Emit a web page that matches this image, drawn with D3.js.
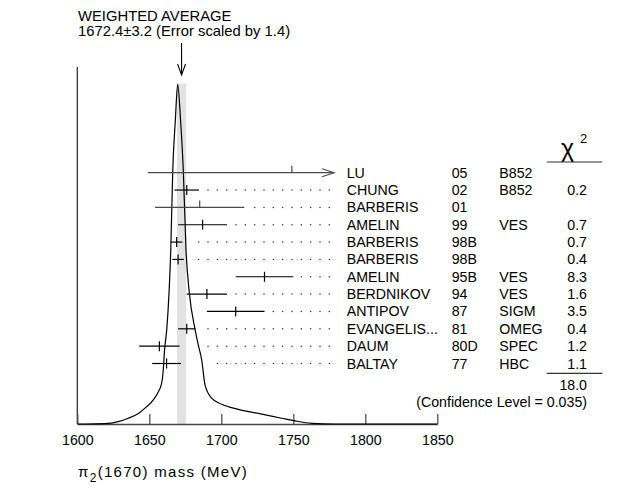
<!DOCTYPE html>
<html>
<head>
<meta charset="utf-8">
<script src="https://cdn.jsdelivr.net/npm/d3@7"></script>
<style>
  body { margin: 0; background: #fff; }
  text { font-family: "Liberation Sans", Arial, sans-serif; fill: #000; }
</style>
</head>
<body>
<div id="chart-area"></div>
<script>
// measurements, top to bottom
const authors = ['LU', 'CHUNG', 'BARBERIS', 'AMELIN', 'BARBERIS', 'BARBERIS', 'AMELIN',
                 'BERDNIKOV', 'ANTIPOV', 'EVANGELIS...', 'DAUM', 'BALTAY']
const years = ['05', '02', '01', '99', '98B', '98B', '95B', '94', '87', '81', '80D', '77']
const experiments = ['B852', 'B852', '', 'VES', '', '', 'VES', 'VES', 'SIGM', 'OMEG', 'SPEC', 'HBC']
const chi2 = ['', '0.2', '', '0.7', '0.7', '0.4', '8.3', '1.6', '3.5', '0.4', '1.2', '1.1']
const masses = [1749, 1676, 1685, 1687, 1669, 1670, 1730, 1690, 1710, 1676, 1657, 1662]
const errors = [100, 8.5, 31, 17, 4, 4, 20, 14, 20, 6, 14, 10]
const used = [false, true, false, true, true, true, true, true, true, true, true, true]

const avgMass = 1672.4
const avgErr = 3.2
const chi2Total = '18.0'
const confLevel = '(Confidence Level = 0.035)'
const xTicks = [1600, 1650, 1700, 1750, 1800, 1850]

// ideogram (height as fraction of the peak)
const curveMass = [1600, 1605.3, 1619.2, 1628.5, 1635.4, 1642.4, 1648.2, 1652.8, 1656.3, 1658.6,
                   1659.7, 1660.6, 1662.1, 1663.7, 1664.9, 1666.3, 1668.1, 1669.7,
                   1671.7, 1673.6, 1675.5, 1677.8, 1681.7, 1684, 1686.4, 1688.7, 1693.3,
                   1700.3, 1711.8, 1728.1, 1741.9, 1751.2, 1762.8, 1779, 1850]
const curveHeight = [0, 0, 0.001, 0.007, 0.017, 0.031, 0.051, 0.071, 0.095, 0.12,
                     0.159, 0.218, 0.277, 0.386, 0.512, 0.748, 0.895, 1.0,
                     0.895, 0.748, 0.512, 0.386, 0.28, 0.233, 0.188, 0.115, 0.076,
                     0.058, 0.043, 0.029, 0.017, 0.009, 0.002, 0, 0]

const width = 637
const height = 496
const baseY = 424

const svg = d3.select('#chart-area')
              .append('svg')
              .attr('width', width)
              .attr('height', height)

const x = d3.scaleLinear()
            .domain([1600, 1850])
            .range([77.3, 437.3])

const yCurve = d3.scaleLinear()
                 .domain([0, 1])
                 .range([baseY, 84.3])

const yRow = d3.scalePoint()
               .domain(d3.range(authors.length))
               .range([172.7, 363.5])

// gray band for the average
svg.append('rect')
   .attr('x', x(avgMass - avgErr))
   .attr('y', yCurve(1) - 1)
   .attr('width', x(avgMass + avgErr) - x(avgMass - avgErr))
   .attr('height', baseY - yCurve(1) + 1)
   .attr('fill', '#e2e2e2')

// left vertical line
svg.append('line')
   .attr('x1', x(1600)).attr('x2', x(1600))
   .attr('y1', 67).attr('y2', baseY)
   .attr('stroke', '#222')
   .attr('stroke-width', 1.2)

// x axis, ticks pointing up
const xAxisCall = d3.axisBottom(x)
                    .tickValues(xTicks)
                    .tickSizeInner(-10)
                    .tickSizeOuter(0)
                    .tickPadding(11)
                    .tickFormat(d3.format('d'))

const xAxis = svg.append('g')
   .attr('transform', 'translate(0,' + baseY + ')')
   .call(xAxisCall)
xAxis.select('.domain').attr('stroke', '#444').attr('stroke-width', 1.6)
xAxis.selectAll('.tick line').attr('stroke', '#444').attr('stroke-width', 1.2)
xAxis.selectAll('text')
     .attr('font-family', '"Liberation Sans", Arial, sans-serif')
     .attr('font-size', '14.2px')
     .attr('fill', '#000')

// ideogram
const line = d3.line()
               .x((d, i) => x(curveMass[i]))
               .y(d => yCurve(d))
               .curve(d3.curveMonotoneX)

svg.append('path')
   .datum(curveHeight)
   .attr('d', line)
   .attr('fill', 'none')
   .attr('stroke', '#000')
   .attr('stroke-width', 1.2)

// right edge of the curve at a given pixel height
const peak = curveHeight.indexOf(1)
function curveRightX(py) {
    const h = yCurve.invert(py)
    for (let i = peak; i < curveHeight.length - 1; i++) {
        if (curveHeight[i + 1] <= h) {
            const t = (curveHeight[i] - h) / (curveHeight[i] - curveHeight[i + 1])
            return x(curveMass[i] + t * (curveMass[i + 1] - curveMass[i]))
        }
    }
    return x(1600)
}

// weighted average label and arrow
svg.append('text')
   .attr('x', 78).attr('y', 21)
   .attr('font-size', '14.8px')
   .text('WEIGHTED AVERAGE')
svg.append('text')
   .attr('x', 78).attr('y', 36)
   .attr('font-size', '14.8px')
   .text(avgMass + '\u00b1' + avgErr + ' (Error scaled by 1.4)')

const ax = x(avgMass)
svg.append('line')
   .attr('x1', ax).attr('x2', ax)
   .attr('y1', 43).attr('y2', 75)
   .attr('stroke', '#000').attr('stroke-width', 1.1)
svg.append('path')
   .attr('d', 'M' + (ax - 4) + ',64 L' + ax + ',75 L' + (ax + 4) + ',64')
   .attr('fill', 'none').attr('stroke', '#000').attr('stroke-width', 1.1)

// measurements
const dotEnd = 329.3
const dotStep = 9.33
const drawLimit = 334

const rows = svg.selectAll('.row')
                .data(masses)
                .enter()
                .append('g')
                .attr('class', 'row')

rows.each(function (m, i) {
    const g = d3.select(this)
    const y = yRow(i)
    const col = used[i] ? '#000' : '#4a4a4a'
    const x1 = x(m - errors[i])
    const x2raw = x(m + errors[i])
    const x2 = Math.min(x2raw, drawLimit)

    g.append('line')
     .attr('x1', x1).attr('x2', x2)
     .attr('y1', y).attr('y2', y)
     .attr('stroke', col).attr('stroke-width', 1.2)

    g.append('line')
     .attr('x1', x(m)).attr('x2', x(m))
     .attr('y1', y - (used[i] ? 5 : 7)).attr('y2', used[i] ? y + 5 : y)
     .attr('stroke', col).attr('stroke-width', 1.2)

    if (x2raw > drawLimit) {
        g.append('path')
         .attr('d', 'M' + (x2 - 12) + ',' + (y - 4) + ' L' + x2 + ',' + y + ' L' + (x2 - 12) + ',' + (y + 4))
         .attr('fill', 'none').attr('stroke', col).attr('stroke-width', 1.2)
        return
    }

    // dotted leader to the table
    const start = Math.max(x2, curveRightX(y)) + 6
    const dots = []
    for (let d = dotEnd; d > start; d -= dotStep) dots.push(d)
    g.selectAll('circle')
     .data(dots)
     .enter()
     .append('circle')
     .attr('cx', d => d)
     .attr('cy', y)
     .attr('r', 0.75)
     .attr('fill', '#333')
})

// table
const table = svg.append('g')
const cols = [[authors, 346.7, 'start'], [years, 451.7, 'start'],
              [experiments, 499.3, 'start'], [chi2, 587, 'end']]
cols.forEach(([vals, cx, anchor]) => {
    table.selectAll(null)
         .data(vals)
         .enter()
         .append('text')
         .attr('x', cx)
         .attr('y', (d, i) => yRow(i) + 5)
         .attr('font-size', '14.2px')
         .attr('text-anchor', anchor)
         .text(d => d)
})

// chi2 header
svg.append('text')
   .attr('x', 561).attr('y', 157)
   .attr('font-family', '"DejaVu Serif", serif')
   .attr('font-size', '25px')
   .text('\u03c7')
svg.append('text')
   .attr('x', 580).attr('y', 143)
   .attr('font-size', '13px')
   .text('2')
svg.append('line')
   .attr('x1', 546.7).attr('x2', 602.3)
   .attr('y1', 162).attr('y2', 162)
   .attr('stroke', '#333').attr('stroke-width', 1.2)
svg.append('line')
   .attr('x1', 546.7).attr('x2', 602.3)
   .attr('y1', 373.3).attr('y2', 373.3)
   .attr('stroke', '#333').attr('stroke-width', 1.2)

svg.append('text')
   .attr('x', 587).attr('y', 389.5)
   .attr('font-size', '14.2px')
   .attr('text-anchor', 'end')
   .text(chi2Total)
svg.append('text')
   .attr('x', 587).attr('y', 406.7)
   .attr('font-size', '14.2px')
   .attr('text-anchor', 'end')
   .text(confLevel)

// x label
const xl = svg.append('text')
              .attr('x', 78).attr('y', 477)
              .attr('font-family', '"DejaVu Sans", sans-serif')
              .attr('font-size', '15px')
              .attr('letter-spacing', '1.3px')
xl.append('tspan').text('\u03c0')
xl.append('tspan').attr('dy', 5).attr('font-size', '12px').text('2')
xl.append('tspan').attr('dy', -5).text('(1670) mass (MeV)')
</script>
</body>
</html>
